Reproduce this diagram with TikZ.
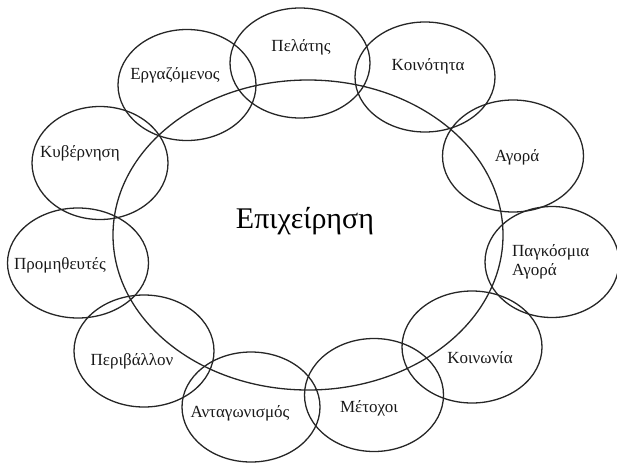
\documentclass[tikz,border=0pt]{standalone}
\usepackage{fontspec}
\setmainfont{Liberation Serif}
\usetikzlibrary{shapes.geometric}
\begin{document}
\begin{tikzpicture}[x=1pt,y=-1pt,
  ring/.style={draw=black!85,line width=1.3pt,ellipse,inner sep=0pt},
  lbl/.style={font=\fontsize{17}{19}\selectfont,text=black!90,inner sep=0pt},
  big/.style={font=\fontsize{30}{32}\selectfont,inner sep=0pt}]
\useasboundingbox (0,0) rectangle (617,463);
\node[ring,minimum width=390pt,minimum height=310pt] (main) at (308,235) {};
\node[ring,minimum width=138pt,minimum height=111pt] (erg) at (187,85) {};
\node[ring,minimum width=140pt,minimum height=110pt] (pel) at (300,63) {};
\node[ring,minimum width=140pt,minimum height=110pt] (koin) at (425,77) {};
\node[ring,minimum width=141pt,minimum height=112pt] (agr) at (513,156) {};
\node[ring,minimum width=134pt,minimum height=111pt] (pag) at (552,262) {};
\node[ring,minimum width=140pt,minimum height=112pt] (kwn) at (472,347) {};
\node[ring,minimum width=139pt,minimum height=113pt] (met) at (374,395) {};
\node[ring,minimum width=138pt,minimum height=110pt] (ant) at (251,407) {};
\node[ring,minimum width=140pt,minimum height=112pt] (per) at (144,351) {};
\node[ring,minimum width=141pt,minimum height=110pt] (pro) at (78,263) {};
\node[ring,minimum width=136pt,minimum height=113pt] (kyb) at (100,163) {};
\node[big] (tmain) at (305,221) {Επιχείρηση};
\node[lbl] (terg) at (175,75) {Εργαζόμενος};
\node[lbl] (tpel) at (301,47) {Πελάτης};
\node[lbl] (tkoin) at (428,66) {Κοινότητα};
\node[lbl] (tagr) at (517,157) {Αγορά};
\node[lbl,align=left,anchor=west] (tpag) at (512,262) {Παγκόσμια\\Αγορά};
\node[lbl] (tkwn) at (480,358) {Κοινωνία};
\node[lbl] (tmet) at (369,408) {Μέτοχοι};
\node[lbl] (tant) at (240,413) {Ανταγωνισμός};
\node[lbl] (tper) at (132,361) {Περιβάλλον};
\node[lbl] (tpro) at (60,265) {Προμηθευτές};
\node[lbl] (tkyb) at (80,153) {Κυβέρνηση};
\end{tikzpicture}
\end{document}
